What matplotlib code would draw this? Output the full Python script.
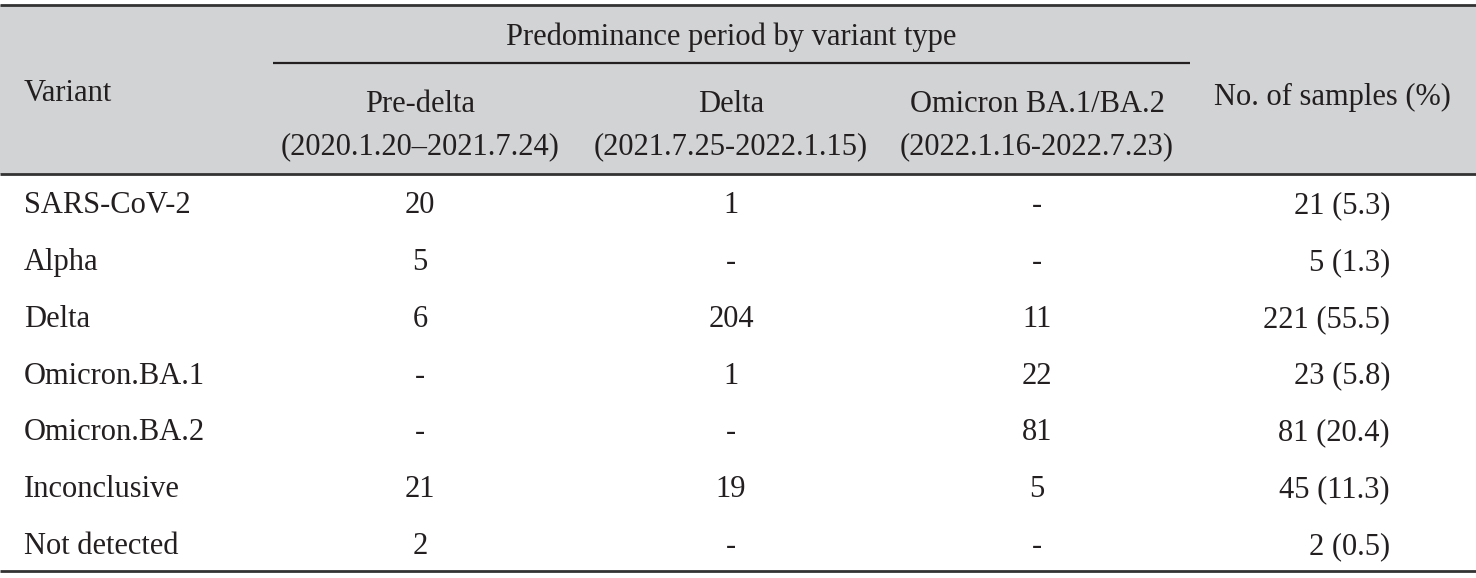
import matplotlib.pyplot as plt

# Table content
variants = ["SARS-CoV-2", "Alpha", "Delta", "Omicron.BA.1", "Omicron.BA.2",
            "Inconclusive", "Not detected"]
pre_delta = ["20", "5", "6", "-", "-", "21", "2"]
delta = ["1", "-", "204", "1", "-", "19", "-"]
omicron = ["-", "-", "11", "22", "81", "5", "-"]
n_samples = [21, 5, 221, 23, 81, 45, 2]
percent = [5.3, 1.3, 55.5, 5.8, 20.4, 11.3, 0.5]

group_title = "Predominance period by variant type"
period_names = ["Pre-delta", "Delta", "Omicron BA.1/BA.2"]
period_dates = ["(2020.1.20\u20132021.7.24)", "(2021.7.25-2022.1.15)",
                "(2022.1.16-2022.7.23)"]

# Layout (pixel-like units of the 1476x578 canvas, y grows downwards)
W, H = 1476, 578
left_x = 24
col_x = [420, 731, 1037]
last_right = 1390
last_center = 1332
top_rule, head_rule, bottom_rule = 5, 174, 571
header_fill = "#d1d3d4"
rule_color = "#333333"
ink = "#231f20"
fs = 22
cap = 0.662 * fs * 100 / 72  # cap height in px, used to centre caps on a row

plt.rcParams["font.family"] = ["Liberation Serif", "DejaVu Serif"]

fig = plt.figure(figsize=(W / 100, H / 100), dpi=100)
ax = fig.add_axes([0, 0, 1, 1])
ax.set_xlim(0, W)
ax.set_ylim(H, 0)
ax.axis("off")

# header band and rules
ax.fill_between([0, W], top_rule, head_rule, color=header_fill, lw=0)
for y in (top_rule, head_rule, bottom_rule):
    ax.plot([0, W], [y, y], color=rule_color, lw=2.0, solid_capstyle="butt")
ax.plot([273, 1190], [63, 63], color=ink, lw=1.6, solid_capstyle="butt")


def put(x, yc, s, ha):
    ax.text(x, yc + cap / 2, s, ha=ha, va="baseline", color=ink, fontsize=fs)


put(731, 35, group_title, "center")
put(left_x, 91, "Variant", "left")
put(last_center, 95, "No. of samples (%)", "center")
for x, name, dates in zip(col_x, period_names, period_dates):
    put(x, 102, name, "center")
    put(x, 144, dates, "center")

row_h = (bottom_rule - head_rule) / len(variants)
for i, v in enumerate(variants):
    yc = head_rule + row_h * (i + 0.5) + 1
    put(left_x, yc, v, "left")
    for x, vals in zip(col_x, [pre_delta, delta, omicron]):
        put(x, yc, vals[i], "center")
    put(last_right, yc, f"{n_samples[i]} ({percent[i]})", "right")

fig.savefig("out.png", dpi=100)
